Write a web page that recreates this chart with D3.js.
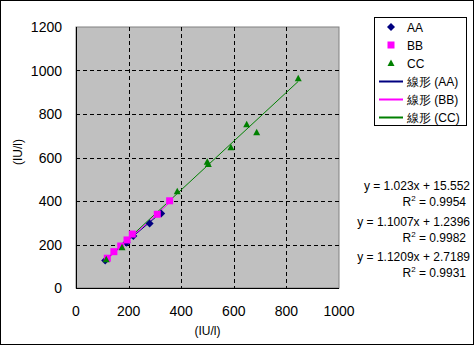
<!DOCTYPE html>
<html>
<head>
<meta charset="utf-8">
<script src="https://cdn.jsdelivr.net/npm/d3@7"></script>
<style>
  body { margin: 0; background: #fff; }
  text { font-family: "Liberation Sans", Arial, sans-serif; fill: #000; }
</style>
</head>
<body>
<div id="chart"></div>
<script>
// series data (x, y)
var seriesNames = ["AA", "BB", "CC"];
var aaX = [111, 192, 218, 280, 324];
var aaY = [126, 208, 239, 297, 343];
var bbX = [119, 144, 170, 194, 214, 309, 356];
var bbY = [137, 167, 193, 221, 248, 339, 401];
var ccX = [115, 175, 385, 499, 503, 589, 649, 687, 845];
var ccY = [132, 187, 445, 581, 570, 647, 753, 716, 964];
var slopes = [1.023, 1.1007, 1.1209];
var intercepts = [15.552, 1.2396, 2.7189];
var r2 = ["0.9954", "0.9982", "0.9931"];
var colors = ["#000080", "#FF00FF", "#008000"];
var lineColors = ["#000080", "#FF00FF", "#008000"];
var xTicks = [0, 200, 400, 600, 800, 1000];
var yTicks = [0, 200, 400, 600, 800, 1000, 1200];
var axisLabel = "(IU/l)";

var width = 475, height = 346;
var svg = d3.select("#chart").append("svg")
    .attr("width", width)
    .attr("height", height);

// outer frame
svg.append("rect")
    .attr("x", 0.5).attr("y", 0.5)
    .attr("width", width - 2).attr("height", height - 2)
    .attr("fill", "#fff").attr("stroke", "#000");

var x = d3.scaleLinear().domain([0, 1000]).range([76, 339]),
    y = d3.scaleLinear().domain([0, 1200]).range([288, 27]);

// plot area
svg.append("rect")
    .attr("x", x(0)).attr("y", y(1200))
    .attr("width", x(1000) - x(0)).attr("height", y(0) - y(1200))
    .attr("fill", "#C0C0C0")
    .attr("stroke", "#808080");

// grid
svg.selectAll(".vgrid")
    .data(xTicks.slice(1, -1))
    .enter().append("line")
    .attr("x1", function(d) { return Math.round(x(d)) + 0.5; })
    .attr("x2", function(d) { return Math.round(x(d)) + 0.5; })
    .attr("y1", y(1200)).attr("y2", y(0))
    .attr("stroke", "#000").attr("stroke-dasharray", "4,3");
svg.selectAll(".hgrid")
    .data(yTicks.slice(1, -1))
    .enter().append("line")
    .attr("y1", function(d) { return Math.round(y(d)) + 0.5; })
    .attr("y2", function(d) { return Math.round(y(d)) + 0.5; })
    .attr("x1", x(0)).attr("x2", x(1000))
    .attr("stroke", "#000").attr("stroke-dasharray", "4,3");

// axes
svg.append("line")
    .attr("x1", x(0) + 0.5).attr("x2", x(0) + 0.5)
    .attr("y1", y(1200)).attr("y2", y(0) + 0.5)
    .attr("stroke", "#000");
svg.append("line")
    .attr("x1", x(0)).attr("x2", x(1000))
    .attr("y1", y(0) + 0.5).attr("y2", y(0) + 0.5)
    .attr("stroke", "#000");

svg.selectAll(".xt")
    .data(xTicks)
    .enter().append("text")
    .attr("x", function(d) { return x(d); })
    .attr("y", 316)
    .attr("text-anchor", "middle")
    .attr("font-size", "14px")
    .text(function(d) { return d; });
svg.selectAll(".yt")
    .data(yTicks)
    .enter().append("text")
    .attr("x", 62)
    .attr("y", function(d) { return y(d) + 5; })
    .attr("text-anchor", "end")
    .attr("font-size", "14px")
    .text(function(d) { return d; });

svg.append("text")
    .attr("x", (x(0) + x(1000)) / 2)
    .attr("y", 335)
    .attr("text-anchor", "middle")
    .attr("font-size", "12px")
    .text(axisLabel);
svg.append("text")
    .attr("transform", "translate(22,152) rotate(-90)")
    .attr("text-anchor", "middle")
    .attr("font-size", "12px")
    .text(axisLabel);

// markers
function marker(sel, i) {
    if (i === 0) {
        sel.append("path").attr("d", "M0,-4L4,0L0,4L-4,0Z").attr("fill", colors[0]);
    } else if (i === 1) {
        sel.append("rect").attr("x", -3.5).attr("y", -3.5).attr("width", 7).attr("height", 7).attr("fill", colors[1]);
    } else {
        sel.append("path").attr("d", "M0,-3.5L3.5,3L-3.5,3Z").attr("fill", colors[2]);
    }
}

var allX = [aaX, bbX, ccX], allY = [aaY, bbY, ccY];

// trendlines
allX.forEach(function(xs, i) {
    var ext = d3.extent(xs);
    svg.append("path")
        .datum(ext)
        .attr("fill", "none")
        .attr("stroke", lineColors[i])
        .attr("stroke-width", 1)
        .attr("d", d3.line()
            .x(function(d) { return x(d); })
            .y(function(d) { return y(slopes[i] * d + intercepts[i]); }));
});

allX.forEach(function(xs, i) {
    xs.forEach(function(v, j) {
        var g = svg.append("g")
            .attr("transform", "translate(" + x(v) + "," + y(allY[i][j]) + ")");
        marker(g, i);
    });
});

// legend
var legend = svg.append("g");
legend.append("rect")
    .attr("x", 374.5).attr("y", 17.5)
    .attr("width", 92).attr("height", 108)
    .attr("fill", "#fff").attr("stroke", "#000");
seriesNames.forEach(function(name, i) {
    var ly = 27 + i * 18;
    var g = legend.append("g").attr("transform", "translate(391," + ly + ")");
    marker(g, i);
    legend.append("text").attr("x", 407).attr("y", ly + 4.5)
        .attr("font-size", "12px").text(name);
});
seriesNames.forEach(function(name, i) {
    var ly = 81 + i * 18;
    legend.append("rect")
        .attr("x", 379).attr("y", ly - 0.5)
        .attr("width", 24).attr("height", 2)
        .attr("fill", lineColors[i]);
    legend.append("text").attr("x", 407).attr("y", ly + 4.5)
        .attr("font-size", "12px").text("線形 (" + name + ")");
});

// equations
slopes.forEach(function(s, i) {
    var ey = 190 + i * 35.5;
    svg.append("text")
        .attr("x", 470).attr("y", ey)
        .attr("text-anchor", "end")
        .attr("font-size", "12px")
        .text("y = " + s + "x + " + intercepts[i]);
    var t = svg.append("text")
        .attr("x", 466).attr("y", ey + 16)
        .attr("text-anchor", "end")
        .attr("font-size", "12px");
    t.append("tspan").text("R");
    t.append("tspan").attr("dy", -5).attr("font-size", "8px").text("2");
    t.append("tspan").attr("dy", 5).text(" = " + r2[i]);
});
</script>
</body>
</html>
